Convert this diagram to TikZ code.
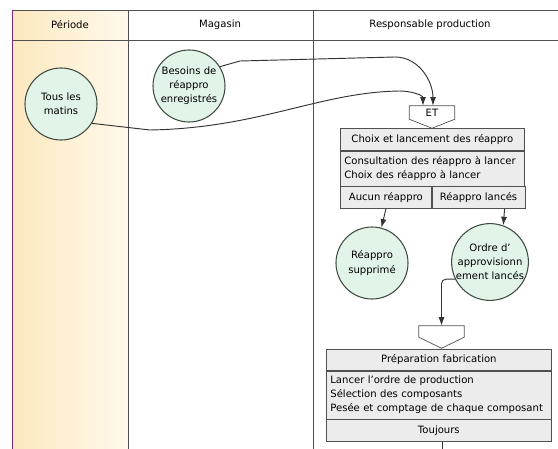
\documentclass[tikz,border=0pt]{standalone}
\usepackage{fontspec}
\setmainfont{DejaVu Sans}
\usepackage{xcolor}
\usetikzlibrary{arrows.meta,positioning,calc}
\definecolor{cerclevert}{HTML}{E2F4E7}
\definecolor{cercletrait}{HTML}{3E4A40}
\definecolor{boxgris}{HTML}{ECECEC}
\definecolor{boxtrait}{HTML}{505050}
\definecolor{trait}{HTML}{333333}
\definecolor{periodeg}{HTML}{FCE8BE}
\definecolor{perioded}{HTML}{FFF9EC}
\definecolor{bordviolet}{HTML}{7A2A78}

\tikzset{
  etat/.style={circle, draw=cercletrait, fill=cerclevert, line width=0.9pt, minimum size=2.16cm, inner sep=0pt, align=center},
  fleche/.style={draw=trait, line width=0.8pt, -{Latex[length=2.6mm,width=1.8mm]}},
  ligne/.style={draw=trait, line width=0.8pt},
  tete/.style={draw=boxtrait, fill=boxgris, line width=0.6pt, minimum height=0.66cm, inner sep=0pt},
  corps/.style={draw=boxtrait, fill=boxgris, line width=0.6pt, align=left, inner xsep=0.12cm, inner ysep=0pt},
  porte/.style={inner sep=0pt, minimum width=1.35cm},
  contour/.style={draw=boxtrait, line width=0.6pt},
}

\begin{document}
\begin{tikzpicture}[x=0.03cm, y=-0.03cm, font=\fontsize{8.6}{12}\selectfont]
        \useasboundingbox (0,0) rectangle (558,449);
        % couloirs
        \fill[left color=periodeg, right color=perioded] (12,10) rectangle (128,449);
        \draw[boxtrait, line width=0.6pt] (12,10) -- (558,10) (12,40) -- (558,40) (128,10) -- (128,449) (313,10) -- (313,449);
        \draw[bordviolet, line width=0.6pt] (12,10) -- (12,449);
        \node (hperiode) at (70,25) {Période};
        \node (hmagasin) at (220,25) {Magasin};
        \node (hprod) at (430,25) {Responsable production};

        % evenements
        \node[etat] (tous) at (61,104) {Tous les\\matins};
        \node[etat] (besoins) at (189,86) {Besoins de\\réappro\\enregistrés};

        % choix et lancement
        \node[porte, minimum height=0.39cm] (et) at (432,112.5) {ET};
        \draw[contour] (et.north west) -- (et.north east) -- (et.south east) -- ($(et.south)+(0,9)$) -- (et.south west) -- cycle;
        \node[tete, minimum width=5.52cm, anchor=north west] (choix) at (340,128) {Choix et lancement des réappro};
        \node[corps, text width=5.28cm, minimum height=1.05cm, below=0pt of choix] (consult) {Consultation des réappro à lancer\\Choix des réappro à lancer};
        \node[tete, minimum width=2.73cm, anchor=north west] (aucun) at (consult.south west) {Aucun réappro};
        \node[tete, minimum width=2.79cm, anchor=north west] (lances) at (aucun.north east) {Réappro lancés};

        \node[etat] (supprime) at (372,263) {Réappro\\supprimé};
        \node[etat] (ordre) at (490,262) {Ordre d'\\approvisionn\\ement lancés};

        % preparation fabrication
        \node[porte, minimum height=0.33cm] (et2) at (441.5,331.5) {};
        \draw[contour] (et2.north west) -- (et2.north east) -- (et2.south east) -- ($(et2.south)+(0,11)$) -- (et2.south west) -- cycle;
        \node[tete, minimum width=6.75cm, minimum height=0.63cm, anchor=north west] (prepa) at (326,349) {Préparation fabrication};
        \node[corps, text width=6.51cm, minimum height=1.44cm, below=0pt of prepa] (taches) {Lancer l'ordre de production\\Sélection des composants\\Pesée et comptage de chaque composant};
        \node[tete, minimum width=6.75cm, below=0pt of taches] (toujours) {Toujours};
        \coordinate (suite) at (442,449);

        \draw[fleche] (besoins.32) -- (240,61) -- (395,57) to[out=0,in=90] ($(et.north)+(1,0)$);
        \draw[fleche] (tous.-32) -- (150,130) .. controls (260,128) and (320,92) .. (400,91) to[out=0,in=90] ($(et.north)+(-9,0)$);
        \draw[fleche] (aucun.south) -- (supprime.75);
        \draw[fleche] ($(lances.south)+(26,0)$) -- (ordre.70);
        \draw[fleche, rounded corners=4pt] (ordre.206) -| (et2.north);
        \draw[ligne] (toujours.south -| suite) -- (suite);
      \end{tikzpicture}
\end{document}
